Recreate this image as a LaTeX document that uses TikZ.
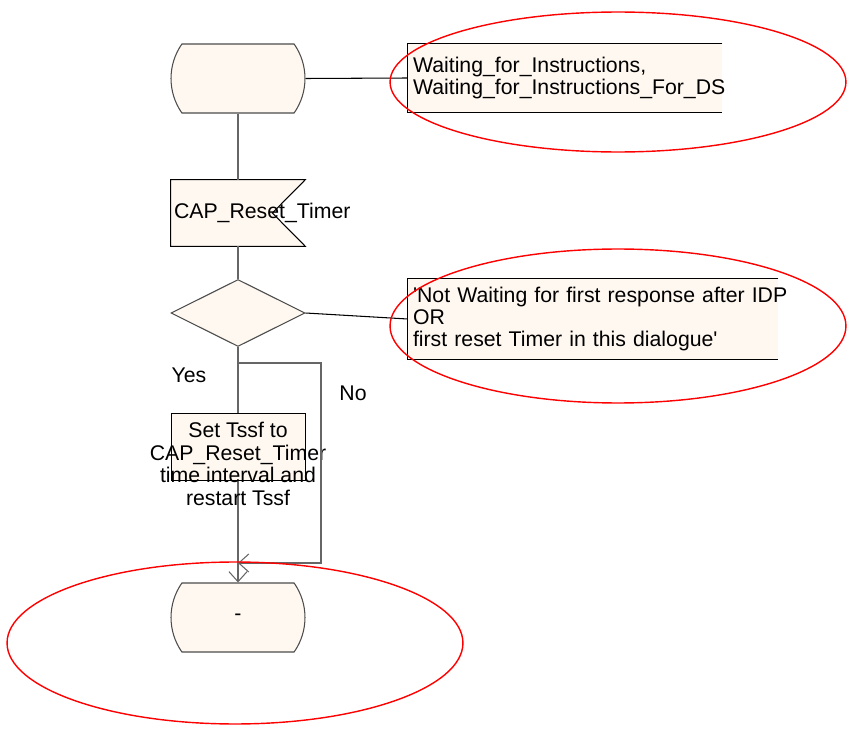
\documentclass[tikz,border=0pt]{standalone}
\usepackage{fontspec}
\setmainfont{Liberation Sans}
\usetikzlibrary{shapes.geometric,shapes.misc,arrows.meta,positioning,calc}
\definecolor{cream}{HTML}{FFF8F0}
\definecolor{ringred}{HTML}{FF0000}

\begin{document}
\begin{tikzpicture}[x=0.02cm,y=-0.02cm,
    font=\fontsize{12.1}{12.2}\selectfont,
    flow/.style={draw=black!60,line width=0.6pt},
    noteline/.style={draw=black,line width=0.6pt},
    barb/.style={-{Straight Barb[length=0.2cm,width=0.36cm]}},
    statebox/.style={rounded rectangle,rounded rectangle arc length=70,draw=black!70,fill=cream,
        minimum width=2.68cm,minimum height=1.38cm,inner sep=0pt,line width=0.6pt},
    hidden/.style={rectangle,minimum width=2.68cm,minimum height=1.32cm,inner sep=0pt},
    choice/.style={diamond,aspect=2,draw=black!70,fill=cream,minimum width=2.68cm,
        minimum height=1.34cm,inner sep=0pt,line width=0.6pt},
    taskbox/.style={rectangle,draw=black,fill=cream,minimum width=2.68cm,minimum height=1.34cm,
        inner sep=0pt,line width=0.5pt},
    notebox/.style={rectangle,fill=cream,inner xsep=0.1cm,inner ysep=0pt,align=left},
    ring/.style={draw=ringred,line width=0.8pt}]
    \useasboundingbox (0,0) rectangle (850,730);
    % Start state
    \node[statebox] (state1) at (238,78.5) {};
    \node[notebox,text width=6.08cm,minimum height=1.36cm] (note1) at (565,78)
        {Waiting\_for\_Instructions,\\Waiting\_for\_Instructions\_For\_DS};
    \draw[noteline] (note1.north east) -- (note1.north west) -- (note1.south west) -- (note1.south east);
    \draw[noteline] (state1.east) -- (note1.west);
    % Signal input
    \node[hidden] (sig) at (238,213) {};
    \draw[noteline,fill=cream] (sig.north west) -- (sig.north east) -- ($(sig.east)+(-33,0)$)
        -- (sig.south east) -- (sig.south west) -- cycle;
    \node[anchor=west,inner sep=0pt] (siglabel) at ([xshift=0.06cm]sig.west) {CAP\_Reset\_Timer};
    \draw[flow] (state1.south) -- (sig.north);
    % Decision
    \node[choice] (dia) at (238,313) {};
    \node[notebox,text width=7.2cm,minimum height=1.6cm,font=\fontsize{12.1}{12.6}\selectfont] (note2) at (593,319)
        {\mbox{\textquotesingle Not Waiting for first response after IDP}\\OR\\first reset Timer in this dialogue\textquotesingle};
    \draw[noteline] (note2.north east) -- (note2.north west) -- (note2.south west) -- (note2.south east);
    \draw[noteline] (dia.east) -- (note2.west);
    \draw[flow] (sig.south) -- (dia.north);
    \node (yes) at (189,375) {Yes};
    \node (no) at (353,393) {No};
    % Task and end state
    \node[statebox] (state2) at (238,617.5) {-};
    \draw[flow,barb] (dia.south) -- (state2.north);
    \node[taskbox] (task) at (238,446.5) {};
    \node[align=center,inner sep=0pt,font=\fontsize{12.1}{12.8}\selectfont] (tasklabel) at (238,464)
        {Set Tssf to\\CAP\_Reset\_Timer\\time interval and\\restart Tssf};
    \coordinate (split) at (238,363);
    \coordinate (nocorner) at (321,363);
    \coordinate (join) at (238,563);
    \draw[flow,barb] (split) -- (nocorner) |- (join);
    % Marks
    \draw[ring] (618,82) ellipse [x radius=4.56cm,y radius=1.4cm];
    \draw[ring] (618,326) ellipse [x radius=4.56cm,y radius=1.54cm];
    \draw[ring] (235,643) ellipse [x radius=4.56cm,y radius=1.62cm];
\end{tikzpicture}
\end{document}
